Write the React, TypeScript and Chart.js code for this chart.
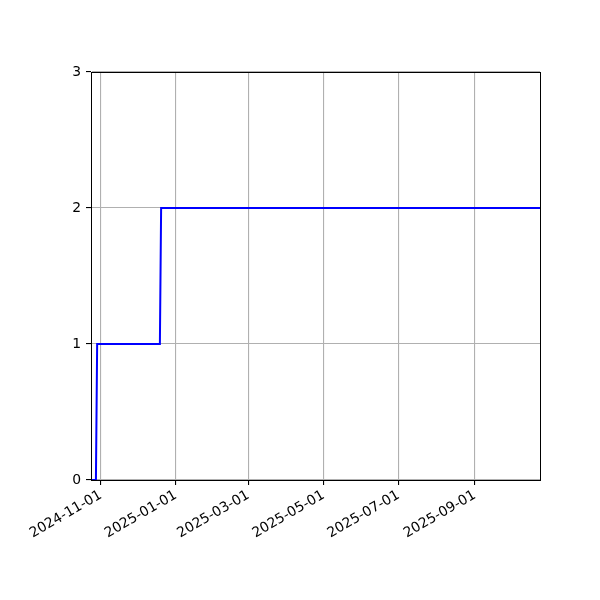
import React, { useEffect, useRef } from "react";
import { Chart, registerables } from "chart.js";

Chart.register(...registerables);

const dates = ["2024-10-24", "2024-10-28", "2024-10-29", "2024-12-19", "2024-12-20", "2025-10-24"];
const counts = [0, 0, 1, 1, 2, 2];
const xTickLabels = ["2024-11-01", "2025-01-01", "2025-03-01", "2025-05-01", "2025-07-01", "2025-09-01"];
const yTicks = [0, 1, 2, 3];

const toMs = (s: string) => Date.parse(s + "T00:00:00Z");
const fmt = (v: number) => new Date(v).toISOString().slice(0, 10);

const frame = {
	id: "frame",
	afterDraw(chart: Chart) {
		const { ctx, chartArea } = chart;
		ctx.save();
		ctx.strokeStyle = "#000";
		ctx.lineWidth = 1;
		ctx.strokeRect(
			Math.round(chartArea.left) + 0.5,
			Math.round(chartArea.top) + 0.5,
			Math.round(chartArea.right - chartArea.left),
			Math.round(chartArea.bottom - chartArea.top)
		);
		ctx.restore();
	},
};

const App = () => {
	const canvasRef = useRef<HTMLCanvasElement>(null);

	useEffect(() => {
		if (!canvasRef.current) return;
		const font = { family: "DejaVu Sans", size: 13.9 };
		const chart = new Chart(canvasRef.current, {
			type: "line",
			data: {
				datasets: [
					{
						data: dates.map((d, i) => ({ x: toMs(d), y: counts[i] })),
						borderColor: "#0000ff",
						borderWidth: 2,
						pointRadius: 0,
						tension: 0,
						fill: false,
					},
				],
			},
			options: {
				animation: false,
				responsive: false,
				layout: { padding: { top: 72, right: 60, left: 0, bottom: 0 } },
				plugins: { legend: { display: false }, tooltip: { enabled: false } },
				scales: {
					x: {
						type: "linear",
						min: toMs(dates[0]),
						max: toMs(dates[dates.length - 1]),
						afterBuildTicks: (scale: any) => {
							scale.ticks = xTickLabels.map((s) => ({ value: toMs(s) }));
						},
						afterFit: (scale: any) => {
							scale.height = 120;
						},
						ticks: {
							autoSkip: false,
							maxRotation: 30,
							minRotation: 30,
							color: "#000",
							font,
							padding: 2,
							callback: (v: any) => fmt(Number(v)),
						},
						grid: { color: "#b0b0b0", lineWidth: 1.1, tickColor: "#000", tickLength: 5 },
						border: { color: "#000", width: 1 },
					},
					y: {
						min: 0,
						max: 3,
						afterBuildTicks: (scale: any) => {
							scale.ticks = yTicks.map((v) => ({ value: v }));
						},
						afterFit: (scale: any) => {
							scale.width = 91;
						},
						ticks: { color: "#000", font, padding: 5 },
						grid: { color: "#b0b0b0", lineWidth: 1.1, tickColor: "#000", tickLength: 5 },
						border: { color: "#000", width: 1 },
					},
				},
			},
			plugins: [frame],
		});
		return () => {
			chart.destroy();
		};
	}, []);

	return (
		<div style={{ position: "absolute", left: 0, top: 0, width: 600, height: 600, background: "#fff" }}>
			<canvas ref={canvasRef} width={600} height={600} />
		</div>
	);
};

export default App;
